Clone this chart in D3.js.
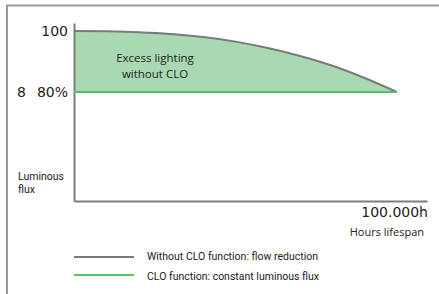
<!DOCTYPE html>
<html>
<head>
<meta charset="utf-8">
<script src="https://cdn.jsdelivr.net/npm/d3@7"></script>
<style>
  body { margin: 0; background: #fff; }
  svg { display: block; }
  .num { font-family: "DejaVu Sans", sans-serif; fill: #222; }
  .cal { font-family: "Open Sans", sans-serif; fill: #222; }
  .din { font-family: "Liberation Sans Narrow", Roboto, sans-serif; fill: #222; }
</style>
</head>
<body>
<svg id="chart" width="439" height="294"></svg>
<script>
// hours of lifespan and relative luminous flux (%)
const hours = [0, 10000, 20000, 30000, 40000, 50000, 60000, 70000, 80000, 90000, 100000]
const fluxNoClo = [100, 99.9, 99.6, 99.0, 98.0, 96.5, 94.4, 91.8, 88.6, 84.6, 80]
const fluxClo = [80, 80, 80, 80, 80, 80, 80, 80, 80, 80, 80]
const yTicks = [{ v: 100, t: '100' }, { v: 80, t: '80%' }]
const legendItems = ['Without CLO function: flow reduction', 'CLO function: constant luminous flux']

let svg = d3.select('#chart')

/* -------------- frame -------------- */
svg.append('path')
    .attr('d', 'M7,294 V5.5 H439')
    .attr('fill', 'none')
    .attr('stroke', '#9a9a9a')
    .attr('stroke-width', 2)

let x = d3.scaleLinear().domain([0, 109300]).range([74, 427])
let y = d3.scaleLinear().domain([44.3, 102.6]).range([201, 23])

let data = hours.map(function (h, i) { return { h: h, a: fluxNoClo[i], b: fluxClo[i] } })

/* -------------- excess area -------------- */
let area = d3.area()
    .x(function (d) { return x(d.h) })
    .y0(function (d) { return y(d.b) })
    .y1(function (d) { return y(d.a) })
    .curve(d3.curveMonotoneX)

svg.append('path')
    .datum(data)
    .attr('d', area)
    .attr('fill', '#a9d9b3')

/* -------------- axes -------------- */
svg.append('g')
    .attr('transform', 'translate(' + x(0) + ',0)')
    .call(d3.axisLeft(y).tickValues([]).tickSizeOuter(0))
    .select('.domain')
    .attr('stroke', '#7d7d7d')
    .attr('stroke-width', 2)

svg.append('g')
    .attr('transform', 'translate(0,' + y(44.3) + ')')
    .call(d3.axisBottom(x).tickValues([]).tickSizeOuter(0))
    .select('.domain')
    .attr('stroke', '#7d7d7d')
    .attr('stroke-width', 2)

/* -------------- lines -------------- */
let lineA = d3.line()
    .x(function (d) { return x(d.h) })
    .y(function (d) { return y(d.a) })
    .curve(d3.curveMonotoneX)

let lineB = d3.line()
    .x(function (d) { return x(d.h) })
    .y(function (d) { return y(d.b) })

svg.append('path')
    .datum(data)
    .attr('d', lineA)
    .attr('fill', 'none')
    .attr('stroke', '#7a7a7a')
    .attr('stroke-width', 2)

svg.append('path')
    .datum(data)
    .attr('d', lineB)
    .attr('fill', 'none')
    .attr('stroke', '#4cc46b')
    .attr('stroke-width', 2)

/* -------------- labels -------------- */
svg.selectAll('.ytick')
    .data(yTicks)
    .enter().append('text')
    .attr('class', 'num')
    .attr('x', 68)
    .attr('y', function (d) { return y(d.v) + 5 })
    .attr('text-anchor', 'end')
    .attr('font-size', 14)
    .text(function (d) { return d.t })

svg.append('text')
    .attr('class', 'num')
    .attr('x', 17)
    .attr('y', y(80) + 5)
    .attr('font-size', 14)
    .text('8')

let excess = svg.append('text')
    .attr('class', 'cal')
    .attr('text-anchor', 'middle')
    .attr('font-size', 11.5)
excess.append('tspan').attr('x', 155).attr('y', 62).text('Excess lighting')
excess.append('tspan').attr('x', 155).attr('y', 78).text('without CLO')

let lum = svg.append('text')
    .attr('class', 'din')
    .attr('font-size', 10.5)
lum.append('tspan').attr('x', 18).attr('y', 179.5).text('Luminous')
lum.append('tspan').attr('x', 18).attr('y', 192.5).text('flux')

svg.append('text')
    .attr('class', 'num')
    .attr('x', 428)
    .attr('y', 217)
    .attr('text-anchor', 'end')
    .attr('font-size', 14)
    .text('100.000h')

svg.append('text')
    .attr('class', 'cal')
    .attr('x', 424)
    .attr('y', 236)
    .attr('text-anchor', 'end')
    .attr('font-size', 11)
    .text('Hours lifespan')

/* -------------- legend -------------- */
let legendColors = ['#7a7a7a', '#4cc46b']
let lg = svg.selectAll('.leg')
    .data(legendItems)
    .enter().append('g')
    .attr('transform', function (d, i) { return 'translate(0,' + (257 + i * 18) + ')' })

lg.append('line')
    .attr('x1', 74).attr('x2', 134)
    .attr('stroke', function (d, i) { return legendColors[i] })
    .attr('stroke-width', 2)

lg.append('text')
    .attr('class', 'din')
    .attr('x', 147)
    .attr('y', function (d, i) { return 3 + i * 2 })
    .attr('font-size', 10.5)
    .text(function (d) { return d })
</script>
</body>
</html>
